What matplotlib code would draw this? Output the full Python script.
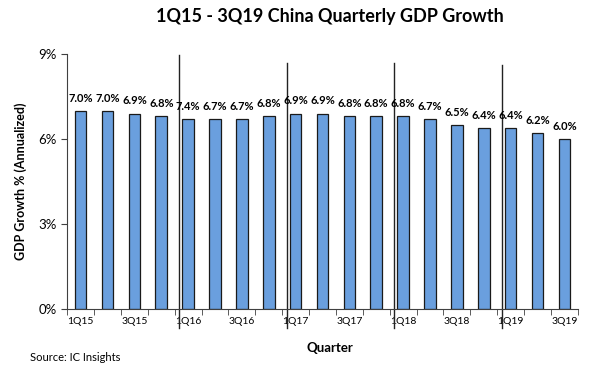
import matplotlib.pyplot as plt
import numpy as np

quarters = ['1Q15', '2Q15', '3Q15', '4Q15', '1Q16', '2Q16', '3Q16', '4Q16',
            '1Q17', '2Q17', '3Q17', '4Q17', '1Q18', '2Q18', '3Q18', '4Q18',
            '1Q19', '2Q19', '3Q19']
growth = [7.0, 7.0, 6.9, 6.8, 6.7, 6.7, 6.7, 6.8,
          6.9, 6.9, 6.8, 6.8, 6.8, 6.7, 6.5, 6.4,
          6.4, 6.2, 6.0]
# labels as printed on the original chart
bar_labels = ['7.0%', '7.0%', '6.9%', '6.8%', '7.4%', '6.7%', '6.7%', '6.8%',
              '6.9%', '6.9%', '6.8%', '6.8%', '6.8%', '6.7%', '6.5%', '6.4%',
              '6.4%', '6.2%', '6.0%']
year_breaks = [3.5, 7.5, 11.5, 15.5]
break_tops = [8.96, 8.68, 8.7, 8.61]

plt.rcParams['font.family'] = ['Lato', 'DejaVu Sans']

fig = plt.figure(figsize=(6, 3.7), dpi=100)
ax = fig.add_axes([0.112, 0.165, 0.851, 0.689])

x = np.arange(len(quarters))
bars = ax.bar(x, growth, width=0.43, color='#6a9fde', edgecolor='#1a1a1a', linewidth=0.9)

for xi, v, lab in zip(x, growth, bar_labels):
    ax.text(xi, v + 0.25, lab, ha='center', va='bottom', fontsize=8, fontweight='bold')

# year separators
for xb, top in zip(year_breaks, break_tops):
    ax.plot([xb + 0.17, xb + 0.17], [-0.67, top], color='#222222', linewidth=1.0,
            clip_on=False)

ax.set_xlim(-0.5, len(quarters) - 0.5)
ax.set_ylim(0, 9)
ax.set_yticks([0, 3, 6, 9])
ax.set_yticklabels(['0%', '3%', '6%', '9%'], fontsize=9.5)
ax.set_xticks(x)
ax.set_xticklabels([q if i % 2 == 0 else '' for i, q in enumerate(quarters)], fontsize=7.5)
ax.tick_params(axis='x', length=0, pad=6)
ax.set_xticks(np.arange(-0.5, len(quarters)), minor=True)
ax.tick_params(axis='x', which='minor', length=4, color='#404040')
ax.tick_params(axis='y', length=4, color='#404040')

for s in ['top', 'right']:
    ax.spines[s].set_visible(False)
ax.spines['left'].set_color('#404040')
ax.spines['bottom'].set_color('#404040')

ax.set_ylabel('GDP Growth % (Annualized)', fontsize=9, fontweight='bold', labelpad=8)
fig.text(0.55, 0.048, 'Quarter', ha='center', fontsize=9.5, fontweight='bold')
fig.text(0.05, 0.025, 'Source: IC Insights', fontsize=8)
fig.text(0.55, 0.955, '1Q15 - 3Q19 China Quarterly GDP Growth', ha='center', va='center',
         fontsize=13, fontweight='bold')

fig.savefig('out.png', dpi=100)
